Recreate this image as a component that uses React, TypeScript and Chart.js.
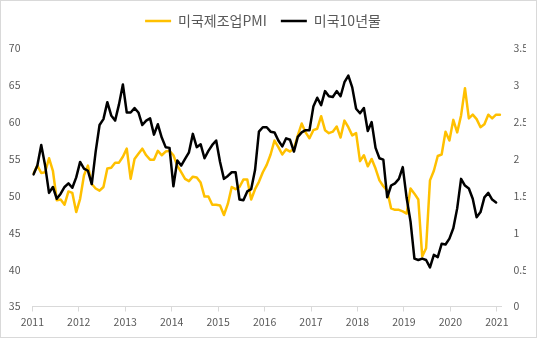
import React, { useEffect, useRef } from 'react';
import { Chart, registerables } from 'chart.js';

Chart.register(...registerables);

// ---- data (monthly points) ----
const SERIES_NAMES = ['미국제조업PMI', '미국10년물'];
const YEAR_LABELS = ['2011', '2012', '2013', '2014', '2015', '2016', '2017', '2018', '2019', '2020', '2021'];

const PMI = [
  53.0, 54.1, 53.1, 53.2, 55.1, 53.4, 49.4, 49.5, 48.8, 50.6, 50.4, 47.8,
  49.6, 52.8, 54.1, 51.6, 51.0, 50.7, 51.2, 53.7, 53.8, 54.5, 54.5, 55.3,
  56.4, 52.3, 55.0, 55.7, 56.4, 55.5, 54.9, 54.9, 56.1, 55.5, 56.0, 56.1,
  55.5, 54.1, 53.2, 52.3, 52.0, 52.6, 52.5, 51.8, 49.9, 49.9, 48.8, 48.8,
  48.7, 47.4, 48.9, 51.2, 50.9, 51.2, 52.2, 52.2, 49.5, 50.9, 51.9, 53.2,
  54.2, 55.6, 57.5, 56.6, 55.6, 56.3, 56.0, 56.4, 58.2, 59.8, 58.6, 57.8,
  58.9, 59.1, 60.8, 58.9, 58.5, 58.7, 59.4, 57.9, 60.2, 59.3, 58.2, 58.5,
  54.7, 55.5, 54.0, 55.0, 53.7, 52.1, 51.3, 50.7, 48.3, 48.1, 48.1, 47.9,
  47.6, 51.0, 50.3, 49.5, 41.8, 42.9, 52.1, 53.4, 55.4, 55.6, 58.7, 57.5,
  60.3, 58.6, 60.9, 64.6, 60.5, 61.0, 60.4, 59.3, 59.7, 61.0, 60.5, 61.0,
  61.0,
];

const UST10Y = [
  1.79, 1.91, 2.19, 1.91, 1.54, 1.62, 1.46, 1.53, 1.62, 1.67, 1.61, 1.75,
  1.96, 1.87, 1.84, 1.66, 2.10, 2.46, 2.54, 2.77, 2.59, 2.52, 2.74, 3.01,
  2.63, 2.63, 2.69, 2.63, 2.46, 2.52, 2.55, 2.33, 2.47, 2.29, 2.16, 2.15,
  1.63, 1.98, 1.91, 2.00, 2.09, 2.34, 2.16, 2.20, 2.01, 2.11, 2.19, 2.25,
  1.96, 1.73, 1.77, 1.82, 1.82, 1.45, 1.44, 1.56, 1.59, 1.85, 2.37, 2.43,
  2.43, 2.37, 2.36, 2.25, 2.17, 2.28, 2.26, 2.10, 2.30, 2.36, 2.39, 2.39,
  2.71, 2.83, 2.73, 2.92, 2.85, 2.84, 2.92, 2.85, 3.04, 3.13, 2.97, 2.68,
  2.62, 2.69, 2.38, 2.50, 2.15, 2.01, 1.99, 1.48, 1.64, 1.67, 1.73, 1.89,
  1.47, 1.15, 0.65, 0.63, 0.65, 0.63, 0.53, 0.70, 0.67, 0.85, 0.84, 0.92,
  1.06, 1.33, 1.73, 1.64, 1.60, 1.46, 1.21, 1.28, 1.48, 1.54, 1.45, 1.41,
];

// x-axis geometry (in month-index units)
const X_MIN = -0.3;
const X_MAX = 120.45;
const TICK_STEP = 11.95;

const TICK_COLOR = '#595959';
const LINE_GRAY = '#d9d9d9';
const FONT_FAMILY = "'Noto Sans CJK KR', 'Noto Sans', sans-serif";

const legendSpacer = {
  id: 'legendSpacer',
  beforeLayout(chart: any) {
    const lg = chart.legend;
    if (lg && !lg.__patched) {
      const orig = lg.fit;
      lg.fit = function () {
        orig.call(this);
        this.height = 48.3;
      };
      lg.__patched = true;
    }
  },
};

const frame = {
  id: 'frame',
  afterDraw(chart: any) {
    const c = chart.ctx;
    c.save();
    c.strokeStyle = LINE_GRAY;
    c.lineWidth = 1;
    c.strokeRect(0.5, 0.5, chart.width - 1, chart.height - 1);
    c.restore();
  },
};

export default function App() {
  const ref = useRef<HTMLCanvasElement | null>(null);

  useEffect(() => {
    if (!ref.current) return;
    const chart = new Chart(ref.current, {
      type: 'line',
      data: {
        datasets: [
          {
            label: SERIES_NAMES[0],
            data: PMI.map((v, i) => ({ x: i, y: v })),
            borderColor: '#FFC000',
            backgroundColor: '#FFC000',
            borderWidth: 2.5,
            pointRadius: 0,
            tension: 0,
            borderJoinStyle: 'round',
            borderCapStyle: 'round',
            yAxisID: 'y',
            order: 1,
          },
          {
            label: SERIES_NAMES[1],
            data: UST10Y.map((v, i) => ({ x: i, y: v })),
            borderColor: '#000000',
            backgroundColor: '#000000',
            borderWidth: 2.5,
            pointRadius: 0,
            tension: 0,
            borderJoinStyle: 'round',
            borderCapStyle: 'round',
            yAxisID: 'y1',
            order: 0,
          },
        ],
      },
      options: {
        responsive: false,
        animation: false,
        devicePixelRatio: 1,
        layout: { padding: { left: 0, right: 11, top: 0, bottom: 0 } },
        plugins: {
          tooltip: { enabled: false },
          legend: {
            position: 'top',
            labels: {
              usePointStyle: true,
              pointStyle: 'line',
              pointStyleWidth: 26,
              padding: 14,
              color: TICK_COLOR,
              font: { family: FONT_FAMILY, size: 14 },
              sort: (a: any, b: any) => a.datasetIndex - b.datasetIndex,
            },
          },
        },
        scales: {
          x: {
            type: 'linear',
            min: X_MIN,
            max: X_MAX,
            afterBuildTicks: (s: any) => {
              s.ticks = YEAR_LABELS.map((_, k) => ({ value: X_MIN + k * TICK_STEP }));
            },
            afterFit: (s: any) => {
              s.height = 31.5;
            },
            ticks: {
              autoSkip: false,
              maxRotation: 0,
              minRotation: 0,
              padding: 4,
              color: TICK_COLOR,
              font: { family: FONT_FAMILY, size: 10.5 },
              callback: (_v: any, i: number) => YEAR_LABELS[i],
            },
            grid: {
              display: true,
              drawOnChartArea: false,
              drawTicks: true,
              tickLength: 5,
              color: LINE_GRAY,
            },
            border: { display: true, color: LINE_GRAY, width: 1 },
          },
          y: {
            position: 'left',
            min: 35,
            max: 70,
            afterFit: (s: any) => {
              s.width = 32.3;
            },
            ticks: {
              stepSize: 5,
              padding: 11.8,
              color: TICK_COLOR,
              font: { family: FONT_FAMILY, size: 10.5 },
            },
            grid: { display: false, drawTicks: false, tickLength: 0 },
            border: { display: false },
          },
          y1: {
            position: 'right',
            min: 0,
            max: 3.5,
            afterFit: (s: any) => {
              s.width = 24.3;
            },
            ticks: {
              stepSize: 0.5,
              padding: 11.8,
              color: TICK_COLOR,
              font: { family: FONT_FAMILY, size: 10.5 },
              callback: (v: any) => String(Number(v)),
            },
            grid: { display: false, drawTicks: false, tickLength: 0 },
            border: { display: false },
          },
        },
      },
      plugins: [legendSpacer, frame],
    } as any);
    return () => chart.destroy();
  }, []);

  return (
    <div style={{ position: 'absolute', left: 0, top: 0, width: 537, height: 338, background: '#ffffff' }}>
      <canvas ref={ref} width={537} height={338} style={{ display: 'block', width: 537, height: 338 }} />
    </div>
  );
}
